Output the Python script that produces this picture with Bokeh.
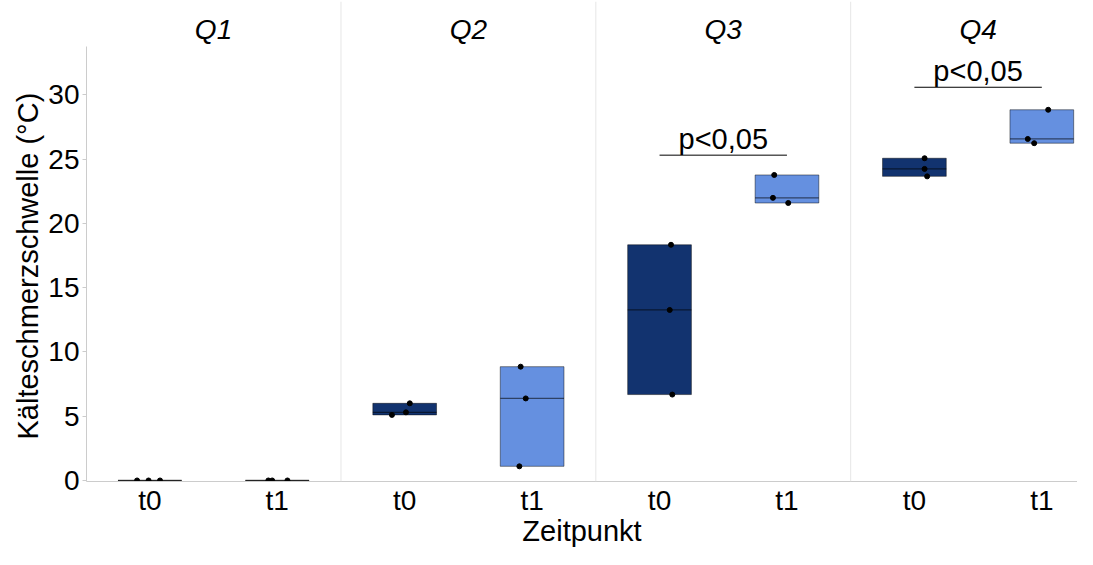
from bokeh.plotting import figure
from bokeh.models import ColumnDataSource, FixedTicker, Span, Title
from bokeh.core.properties import value
from bokeh.embed import file_html
from bokeh.resources import INLINE
import numpy as np

# ---- data ----
quarters = ["Q1", "Q2", "Q3", "Q4"]
timepoints = ["t0", "t1"]
# three observations per quarter & timepoint
vals_t0 = {
    "Q1": [0.0, 0.0, 0.0],
    "Q2": [6.0, 5.3, 5.1],
    "Q3": [18.33, 13.26, 6.68],
    "Q4": [25.06, 24.23, 23.65],
}
vals_t1 = {
    "Q1": [0.0, 0.0, 0.0],
    "Q2": [8.85, 6.38, 1.1],
    "Q3": [23.76, 21.98, 21.58],
    "Q4": [28.83, 26.56, 26.23],
}
# horizontal jitter of the points (category units)
jitter_t0 = {
    "Q1": [-0.10, -0.01, 0.08],
    "Q2": [0.04, 0.01, -0.10],
    "Q3": [0.09, 0.08, 0.10],
    "Q4": [0.08, 0.08, 0.10],
}
jitter_t1 = {
    "Q1": [-0.07, -0.04, 0.08],
    "Q2": [-0.09, -0.05, -0.10],
    "Q3": [-0.10, -0.11, 0.01],
    "Q4": [0.05, -0.11, -0.06],
}
sig_quarters = ["Q3", "Q4"]
sig_y = [25.3, 30.58]
sig_label = "p<0,05"
y_ticks = [0, 5, 10, 15, 20, 25, 30]
x_title = "Zeitpunkt"
y_title = "Kälteschmerzschwelle (°C)"

colors = {"t0": "#12336F", "t1": "#6590E0"}
FONT = "Liberation Sans"
BOX_W = 0.5

# ---- build sources ----
box = dict(x=[], bottom=[], top=[], med=[], x0=[], x1=[], color=[])
pts = dict(x=[], y=[])
for i, q in enumerate(quarters):
    for j, (tp, vals, jit) in enumerate(
        [("t0", vals_t0, jitter_t0), ("t1", vals_t1, jitter_t1)]
    ):
        xc = 2 * i + 1 + j
        v = vals[q]
        box["x"].append(xc)
        box["bottom"].append(min(v))
        box["top"].append(max(v))
        m = float(np.median(v))
        box["med"].append(m)
        box["x0"].append(xc - BOX_W / 2)
        box["x1"].append(xc + BOX_W / 2)
        box["color"].append(colors[tp])
        for vv, jj in zip(v, jit[q]):
            pts["x"].append(xc + jj)
            pts["y"].append(vv)

box_src = ColumnDataSource(box)
pts_src = ColumnDataSource(pts)

p = figure(
    width=1077, height=549,
    x_range=(0.503, 8.28), y_range=(-0.08, 37.25),
    output_backend="svg", toolbar_location=None,
    min_border_left=86, min_border_right=0, min_border_top=1, min_border_bottom=0,
)
p.outline_line_color = None
p.xgrid.visible = False
p.ygrid.visible = False
p.background_fill_color = "white"

# panel separators
for k in range(1, len(quarters)):
    p.add_layout(Span(location=2 * k + 0.5, dimension="height",
                      line_color="#e6e6e6", line_width=1))

# boxes
p.vbar(x="x", width=BOX_W, bottom="bottom", top="top", source=box_src,
       fill_color="color", line_color="black", line_alpha=0.45, line_width=1)
p.segment(x0="x0", x1="x1", y0="med", y1="med", source=box_src,
          line_color="black", line_alpha=0.55, line_width=1.2)
# points
p.scatter(x="x", y="y", source=pts_src, size=5, fill_color="black",
          line_color="black")

# significance brackets
sig_src = ColumnDataSource(dict(
    x0=[2 * quarters.index(q) + 1 for q in sig_quarters],
    x1=[2 * quarters.index(q) + 2 for q in sig_quarters],
    xm=[2 * quarters.index(q) + 1.5 for q in sig_quarters],
    y=sig_y,
    label=[sig_label] * len(sig_quarters),
))
p.segment(x0="x0", x1="x1", y0="y", y1="y", source=sig_src,
          line_color="black", line_width=1)
p.text(x="xm", y="y", text="label", source=sig_src, text_align="center",
       text_baseline="bottom", text_font=value(FONT),
       text_font_size="29px", text_color="black")

# facet labels
facet_src = ColumnDataSource(dict(
    x=[2 * i + 1.5 for i in range(len(quarters))],
    y=[35.07] * len(quarters),
    label=quarters,
))
p.text(x="x", y="y", text="label", source=facet_src, text_align="center",
       text_baseline="middle", text_font=value(FONT), text_font_size="28px",
       text_font_style="italic", text_color="black")

# axes
p.yaxis.ticker = FixedTicker(ticks=y_ticks)
p.yaxis.bounds = (-0.08, 33.75)
p.yaxis.axis_line_color = "#cccccc"
p.yaxis.major_tick_line_color = "#cccccc"
p.yaxis.major_tick_in = 0
p.yaxis.major_tick_out = 4
p.yaxis.minor_tick_line_color = None
p.yaxis.major_label_text_font = FONT
p.yaxis.major_label_text_font_size = "28px"
p.yaxis.major_label_text_color = "black"
p.yaxis.major_label_standoff = 3

xt = list(range(1, 2 * len(quarters) + 1))
p.xaxis.ticker = FixedTicker(ticks=xt)
p.xaxis.major_label_overrides = {t: timepoints[(t - 1) % 2] for t in xt}
p.xaxis.axis_line_color = "#cccccc"
p.xaxis.major_tick_line_color = None
p.xaxis.major_tick_out = 0
p.xaxis.major_tick_in = 0
p.xaxis.minor_tick_line_color = None
p.xaxis.minor_tick_out = 0
p.xaxis.major_label_text_font = FONT
p.xaxis.major_label_text_font_size = "28px"
p.xaxis.major_label_text_color = "black"
p.xaxis.major_label_standoff = 3
p.xaxis.axis_label = x_title
p.xaxis.axis_label_text_font = FONT
p.xaxis.axis_label_text_font_size = "29px"
p.xaxis.axis_label_text_font_style = "normal"
p.xaxis.axis_label_text_color = "black"
p.xaxis.axis_label_standoff = -4

# y-axis title as a side title, shifted along the axis
p.add_layout(Title(text=y_title, align="left", offset=42, standoff=4,
                   text_font=FONT, text_font_size="29px",
                   text_font_style="normal", text_color="black"), "left")

open("out.html", "w").write(file_html(p, INLINE))
